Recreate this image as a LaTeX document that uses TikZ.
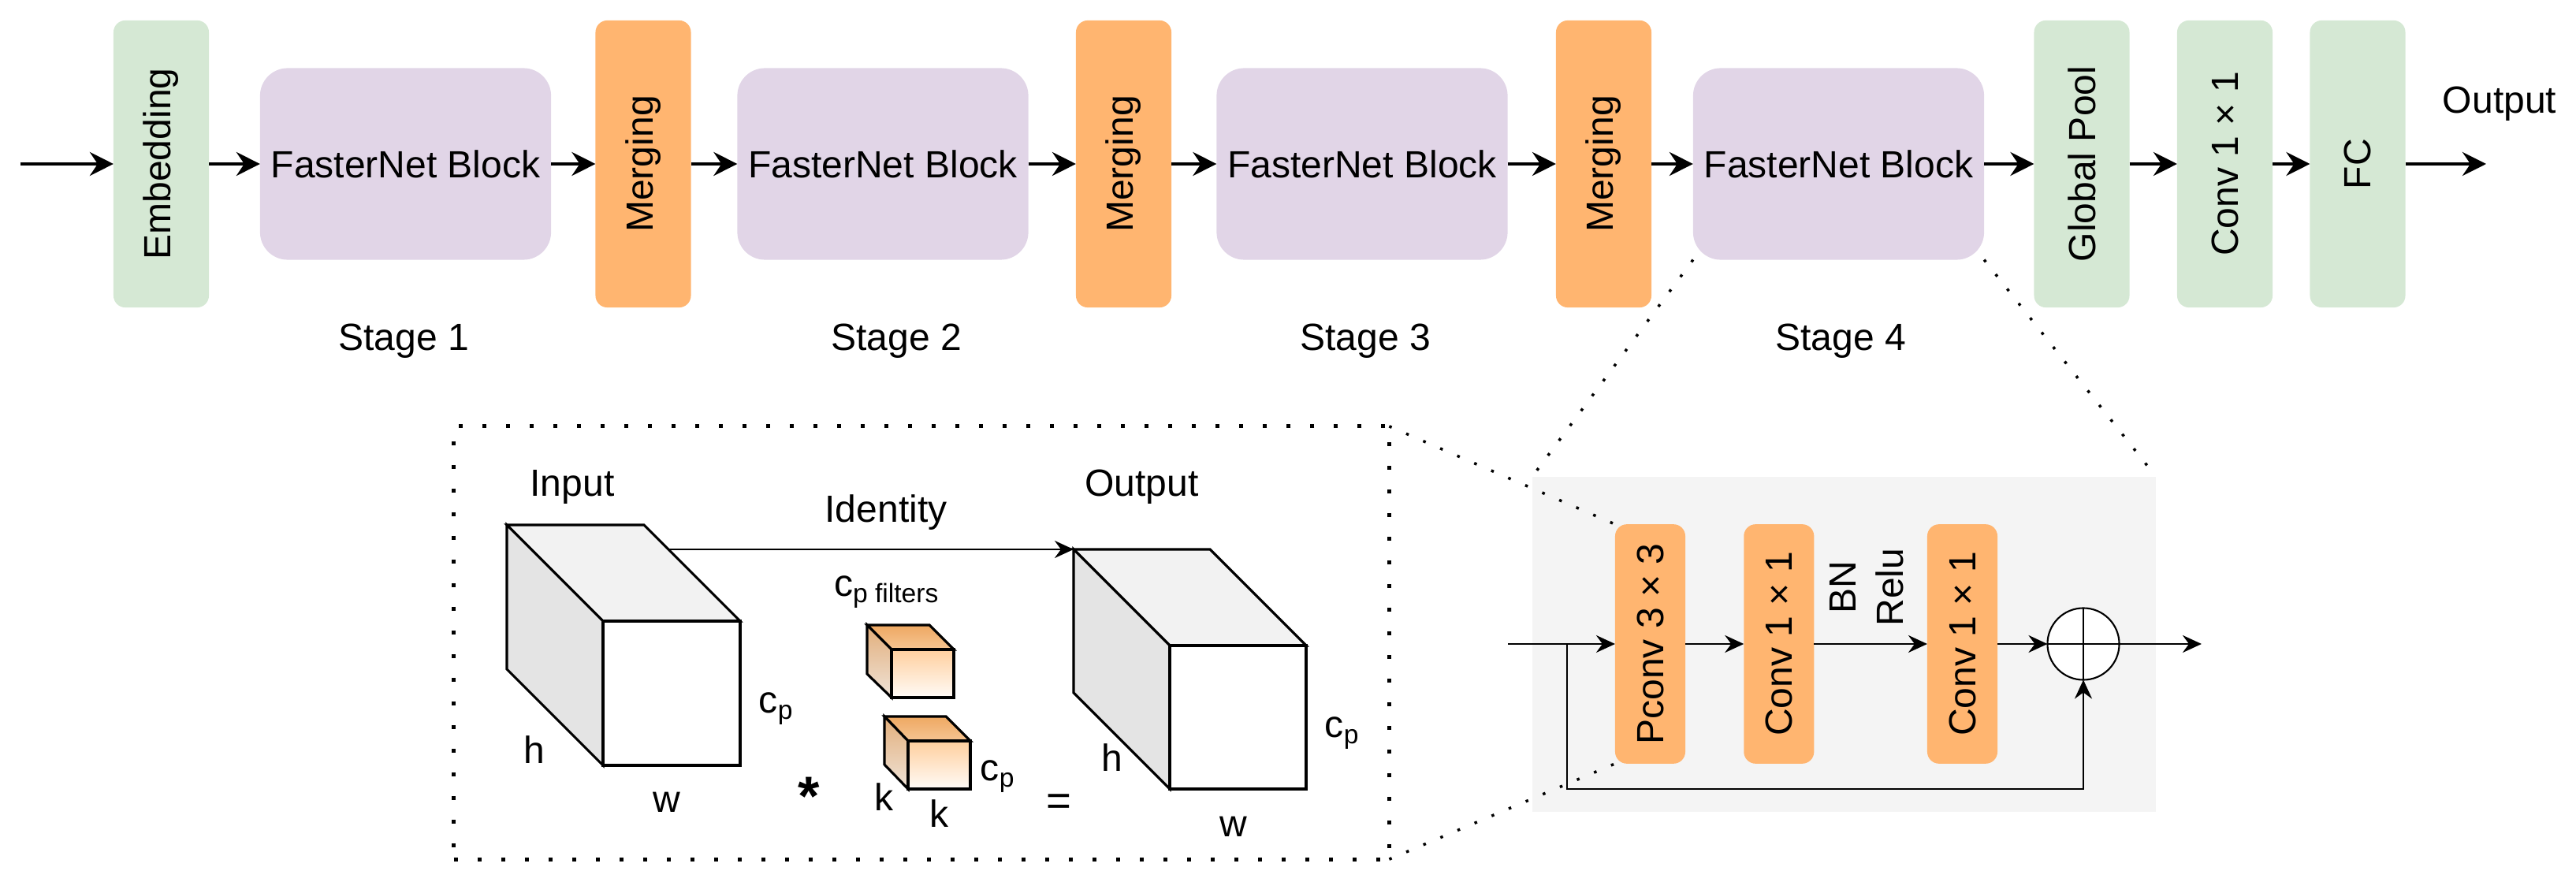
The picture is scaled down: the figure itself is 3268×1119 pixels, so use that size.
\documentclass[tikz,border=0pt]{standalone}
\usepackage{fontspec}
\usepackage{graphicx}
\setmainfont{Liberation Sans}
\usetikzlibrary{arrows.meta}
\definecolor{gfill}{HTML}{D5E8D4}
\definecolor{pfill}{HTML}{E1D5E7}
\definecolor{ofill}{HTML}{FFB570}
\definecolor{greybg}{HTML}{F4F4F4}
\definecolor{cubeside}{HTML}{E4E4E4}
\definecolor{cubetop}{HTML}{F2F2F2}
\definecolor{ftopA}{HTML}{EEA862}
\definecolor{ftopB}{HTML}{F6C592}
\definecolor{ffrontA}{HTML}{FFCF9E}
\definecolor{ffrontB}{HTML}{FFFBF7}
\definecolor{fsideA}{HTML}{E2AE7A}
\definecolor{fsideB}{HTML}{EFE3D8}
\begin{document}
\begin{tikzpicture}[x=0.01cm,y=-0.01cm,
  every node/.style={font=\fontsize{13.66}{17.2}\selectfont, inner sep=0pt, outer sep=0pt},
  tallbox/.style={rounded corners=0.15cm, minimum width=1.21cm, minimum height=3.64cm},
  greenbox/.style={tallbox, fill=gfill},
  mergebox/.style={tallbox, fill=ofill},
  blockbox/.style={fill=pfill, rounded corners=0.35cm, minimum width=3.69cm, minimum height=2.43cm},
  smallbox/.style={fill=ofill, rounded corners=0.15cm, minimum width=0.89cm, minimum height=3.035cm},
  toparrow/.style={line width=1.2pt, -{Stealth[length=0.3cm,width=0.3cm,inset=0.1cm]}},
  lowarrow/.style={line width=0.8pt, -{Stealth[length=0.24cm,width=0.22cm,inset=0.08cm]}},
  lowline/.style={line width=0.8pt},
  dotbox/.style={line width=0.05cm, dash pattern=on 0.05cm off 0.25cm},
  dotline/.style={line width=0.035cm, dash pattern=on 0.035cm off 0.2cm},
  cubeedge/.style={line width=0.9pt, line join=miter}
]
\useasboundingbox (0,0) rectangle (3268,1119);

% ---------------- top row ----------------
\coordinate (tin) at (26,208);
\node[greenbox] (emb) at (204.5,208) {\rotatebox{90}{Embedding}};
\node[blockbox] (b1) at (514.5,208) {FasterNet Block};
\node[mergebox] (m1) at (816,208) {\rotatebox{90}{Merging}};
\node[blockbox] (b2) at (1120,208) {FasterNet Block};
\node[mergebox] (m2) at (1425.5,208) {\rotatebox{90}{Merging}};
\node[blockbox] (b3) at (1728,208) {FasterNet Block};
\node[mergebox] (m3) at (2034.5,208) {\rotatebox{90}{Merging}};
\node[blockbox] (b4) at (2332.5,208) {FasterNet Block};
\node[greenbox] (gp) at (2641,208) {\rotatebox{90}{Global Pool}};
\node[greenbox] (cv) at (2822.5,208) {\rotatebox{90}{Conv 1 × 1}};
\node[greenbox] (fc) at (2991,208) {\rotatebox{90}{FC}};
\coordinate (tout) at (3154,208);
\node (outlbl) at (3171,132) {Output};

\node (s1) at (512,433) {Stage 1};
\node (s2) at (1137,433) {Stage 2};
\node (s3) at (1732,433) {Stage 3};
\node (s4) at (2335,433) {Stage 4};

\draw[toparrow] (tin) -- (emb);
\draw[toparrow] (emb) -- (b1);
\draw[toparrow] (b1) -- (m1);
\draw[toparrow] (m1) -- (b2);
\draw[toparrow] (b2) -- (m2);
\draw[toparrow] (m2) -- (b3);
\draw[toparrow] (b3) -- (m3);
\draw[toparrow] (m3) -- (b4);
\draw[toparrow] (b4) -- (gp);
\draw[toparrow] (gp) -- (cv);
\draw[toparrow] (cv) -- (fc);
\draw[toparrow] (fc) -- (tout);

% ---------------- zoomed block (grey) ----------------
\node[fill=greybg, minimum width=7.91cm, minimum height=4.25cm] (grey) at (2339.5,817.5) {};
\node[draw, dotbox, minimum width=11.86cm, minimum height=5.49cm] (zoombox) at (1169,815.5) {};

\node[smallbox] (pconv) at (2093.5,817) {\rotatebox{90}{Pconv 3 × 3}};
\node[smallbox] (conva) at (2256.8,817) {\rotatebox{90}{Conv 1 × 1}};
\node[smallbox] (convb) at (2489.5,817) {\rotatebox{90}{Conv 1 × 1}};
\node[circle, draw, fill=white, line width=0.6pt, minimum size=0.91cm] (add) at (2643,817) {};
\draw[line width=0.6pt] (add.north) -- (add.south);
\draw[line width=0.6pt] (add.west) -- (add.east);
\node[rotate=90, align=center] (bn) at (2368,745) {BN\\Relu};

\coordinate (gin) at (1913,817);
\coordinate (br) at (1988,817);
\coordinate (skipc) at (1988,1001);
\coordinate (gout) at (2793,817);
\draw[lowarrow] (gin) -- (pconv);
\draw[lowarrow] (pconv) -- (conva);
\draw[lowarrow] (conva) -- (convb);
\draw[lowarrow] (convb) -- (add);
\draw[lowarrow] (add) -- (gout);
\draw[lowarrow] (br) -- (skipc) -| (add.south);

% ---------------- cubes ----------------
% input cube
\coordinate (iA) at (643,666);
\coordinate (iB) at (817,666);
\coordinate (iC) at (765,788);
\coordinate (iD) at (939,788);
\coordinate (iE) at (939,971);
\coordinate (iF) at (765,971);
\coordinate (iG) at (643,849);
\filldraw[cubeedge, fill=cubetop] (iA) -- (iB) -- (iD) -- (iC) -- cycle;
\filldraw[cubeedge, fill=cubeside] (iA) -- (iC) -- (iF) -- (iG) -- cycle;
\filldraw[cubeedge, fill=white] (iC) -- (iD) -- (iE) -- (iF) -- cycle;

% output cube
\coordinate (oA) at (1362,697);
\coordinate (oB) at (1535,697);
\coordinate (oC) at (1484,819);
\coordinate (oD) at (1657,819);
\coordinate (oE) at (1657,1001);
\coordinate (oF) at (1484,1001);
\coordinate (oG) at (1362,879);
\filldraw[cubeedge, fill=cubetop] (oA) -- (oB) -- (oD) -- (oC) -- cycle;
\filldraw[cubeedge, fill=cubeside] (oA) -- (oC) -- (oF) -- (oG) -- cycle;
\filldraw[cubeedge, fill=white] (oC) -- (oD) -- (oE) -- (oF) -- cycle;

% filter 1
\coordinate (fA) at (1100,793);
\coordinate (fB) at (1179,793);
\coordinate (fC) at (1131,824);
\coordinate (fD) at (1210,824);
\coordinate (fE) at (1210,885);
\coordinate (fF) at (1131,885);
\coordinate (fG) at (1100,855);
\draw[cubeedge, top color=ftopA, bottom color=ftopB] (fA) -- (fB) -- (fD) -- (fC) -- cycle;
\draw[cubeedge, top color=fsideA, bottom color=fsideB] (fA) -- (fC) -- (fF) -- (fG) -- cycle;
\draw[cubeedge, top color=ffrontA, bottom color=ffrontB] (fC) -- (fD) -- (fE) -- (fF) -- cycle;

% filter 2
\coordinate (gA) at (1122,909);
\coordinate (gB) at (1200,909);
\coordinate (gC) at (1152,940);
\coordinate (gD) at (1231,940);
\coordinate (gE) at (1231,1001);
\coordinate (gF) at (1152,1001);
\coordinate (gG) at (1122,970);
\draw[cubeedge, top color=ftopA, bottom color=ftopB] (gA) -- (gB) -- (gD) -- (gC) -- cycle;
\draw[cubeedge, top color=fsideA, bottom color=fsideB] (gA) -- (gC) -- (gF) -- (gG) -- cycle;
\draw[cubeedge, top color=ffrontA, bottom color=ffrontB] (gC) -- (gD) -- (gE) -- (gF) -- cycle;

% identity arrow
\coordinate (idS) at (848.5,697);
\draw[lowarrow] (idS) -- (oA);

% labels
\node (inlbl) at (726,618) {Input};
\node (idlbl) at (1124,650) {Identity};
\node (outcl) at (1448.5,618) {Output};
\node[anchor=base west] (cpf) at (1058,757) {c\textsubscript{p filters}};
\node (cpi) at (985,899) {c\textsubscript{p}};
\node (hi) at (678,951) {h};
\node (wi) at (846,1018) {w};
\node[anchor=base, font=\fontsize{20}{24}\selectfont\bfseries] (star) at (1026,1035) {*};
\node (k1) at (1121.5,1011) {k};
\node (k2) at (1191.5,1032) {k};
\node (cpk) at (1266,985) {c\textsubscript{p}};
\node[anchor=base, font=\fontsize{15.5}{18}\selectfont] (eq) at (1343.5,1035) {=};
\node (cpo) at (1703,930) {c\textsubscript{p}};
\node (ho) at (1411,961) {h};
\node (wo) at (1565,1049) {w};

% dotted zoom lines
\draw[dotline] (b4.south west) -- (grey.north west);
\draw[dotline] (b4.south east) -- (grey.north east);
\draw[dotline] (zoombox.north east) -- (pconv.north west);
\draw[dotline] (zoombox.south east) -- (pconv.south west);
\end{tikzpicture}
\end{document}
